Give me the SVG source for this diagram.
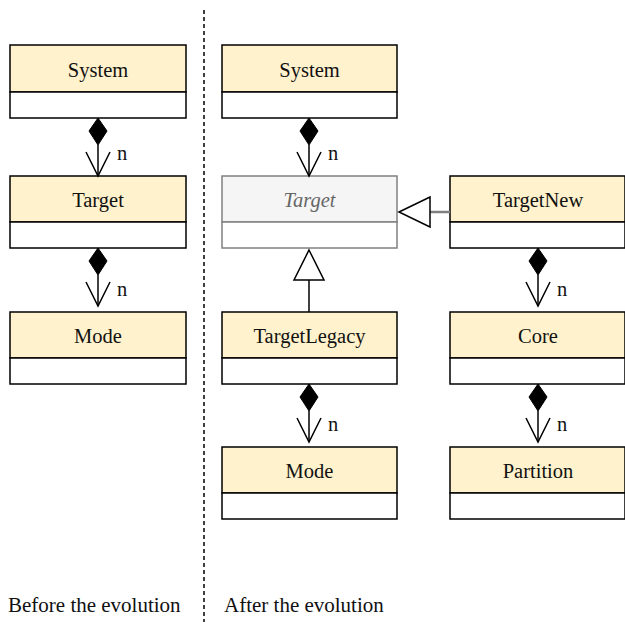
<svg xmlns="http://www.w3.org/2000/svg" width="625" height="622" viewBox="0 0 625 622">
  <style>
    .hdr { fill: #fff2cc; stroke: #000; stroke-width: 1.5; }
    .body { fill: #fff; stroke: #000; stroke-width: 1.5; }
    .ahdr { fill: #f5f5f5; stroke: #808080; stroke-width: 1.5; }
    .abody { fill: #fff; stroke: #808080; stroke-width: 1.5; }
    .lbl { font-family: "Liberation Serif", "Times New Roman", serif; font-size: 20.5px; fill: #111; text-anchor: middle; }
    .alabel { font-family: "Liberation Serif", "Times New Roman", serif; font-size: 20.5px; font-style: italic; fill: #666; text-anchor: middle; }
    .mult { font-family: "Liberation Serif", "Times New Roman", serif; font-size: 20.5px; fill: #111; }
    .cap { font-family: "Liberation Serif", "Times New Roman", serif; font-size: 21px; fill: #111; }
    .edge { stroke: #000; stroke-width: 1.5; fill: none; }
    .diamond { fill: #000; stroke: #000; stroke-width: 1; }
    .tri { fill: #fff; stroke: #000; stroke-width: 1.5; }
  </style>
  <defs>
    <!-- composition: filled diamond at whole, open arrow at part -->
    <g id="comp">
      <polygon class="diamond" points="0,0 9,13 0,27 -9,13"/>
      <line class="edge" x1="0" y1="27" x2="0" y2="58"/>
      <polyline class="edge" points="-12,34 0,58 12,34"/>
    </g>
  </defs>

  <rect width="625" height="622" fill="#fff"/>

  <!-- separator -->
  <line x1="204" y1="10" x2="204" y2="622" stroke="#111" stroke-width="1.6" stroke-dasharray="4,3"/>

  <!-- before -->
  <g id="b-system">
    <rect class="hdr" x="10" y="45" width="176" height="47"/>
    <rect class="body" x="10" y="92" width="176" height="26"/>
    <text class="lbl" x="98" y="77">System</text>
  </g>
  <g id="b-target">
    <rect class="hdr" x="10" y="176" width="176" height="46"/>
    <rect class="body" x="10" y="222" width="176" height="26"/>
    <text class="lbl" x="98" y="207">Target</text>
  </g>
  <g id="b-mode">
    <rect class="hdr" x="10" y="312" width="176" height="46"/>
    <rect class="body" x="10" y="358" width="176" height="26"/>
    <text class="lbl" x="98" y="343">Mode</text>
  </g>

  <!-- after -->
  <g id="a-system">
    <rect class="hdr" x="222" y="45" width="175" height="47"/>
    <rect class="body" x="222" y="92" width="175" height="26"/>
    <text class="lbl" x="309.5" y="77">System</text>
  </g>
  <g id="a-target">
    <rect class="ahdr" x="222" y="176" width="175" height="46"/>
    <rect class="abody" x="222" y="222" width="175" height="26"/>
    <text class="alabel" x="309.5" y="207">Target</text>
  </g>
  <g id="a-targetnew">
    <rect class="hdr" x="450" y="176" width="175" height="46"/>
    <rect class="body" x="450" y="222" width="175" height="26"/>
    <text class="lbl" x="538" y="207">TargetNew</text>
  </g>
  <g id="a-targetlegacy">
    <rect class="hdr" x="222" y="312" width="175" height="46"/>
    <rect class="body" x="222" y="358" width="175" height="26"/>
    <text class="lbl" x="309.5" y="343">TargetLegacy</text>
  </g>
  <g id="a-core">
    <rect class="hdr" x="450" y="312" width="175" height="46"/>
    <rect class="body" x="450" y="358" width="175" height="26"/>
    <text class="lbl" x="538" y="343">Core</text>
  </g>
  <g id="a-mode">
    <rect class="hdr" x="222" y="447" width="175" height="46"/>
    <rect class="body" x="222" y="493" width="175" height="26"/>
    <text class="lbl" x="309.5" y="478">Mode</text>
  </g>
  <g id="a-partition">
    <rect class="hdr" x="450" y="447" width="175" height="46"/>
    <rect class="body" x="450" y="493" width="175" height="26"/>
    <text class="lbl" x="538" y="478">Partition</text>
  </g>

  <g id="connectors">
    <use href="#comp" x="98" y="118"/>
    <text class="mult" x="117" y="160">n</text>
    <use href="#comp" x="98" y="248"/>
    <text class="mult" x="117" y="296">n</text>

    <use href="#comp" x="309" y="118"/>
    <text class="mult" x="328" y="160">n</text>
    <use href="#comp" x="309" y="384"/>
    <text class="mult" x="328" y="431">n</text>
    <use href="#comp" x="538" y="248"/>
    <text class="mult" x="557" y="296">n</text>
    <use href="#comp" x="538" y="384"/>
    <text class="mult" x="557" y="431">n</text>

    <!-- generalisation: TargetLegacy to Target -->
    <line class="edge" x1="309" y1="280" x2="309" y2="312"/>
    <polygon class="tri" points="309,250 324,280 294,280"/>
    <!-- generalisation: TargetNew to Target -->
    <line x1="430" y1="212" x2="450" y2="212" stroke="#808080" stroke-width="2.5"/>
    <polygon class="tri" points="399,212 430,197 430,227"/>
  </g>

  <text class="cap" x="8" y="612">Before the evolution</text>
  <text class="cap" x="224" y="612">After the evolution</text>
</svg>
